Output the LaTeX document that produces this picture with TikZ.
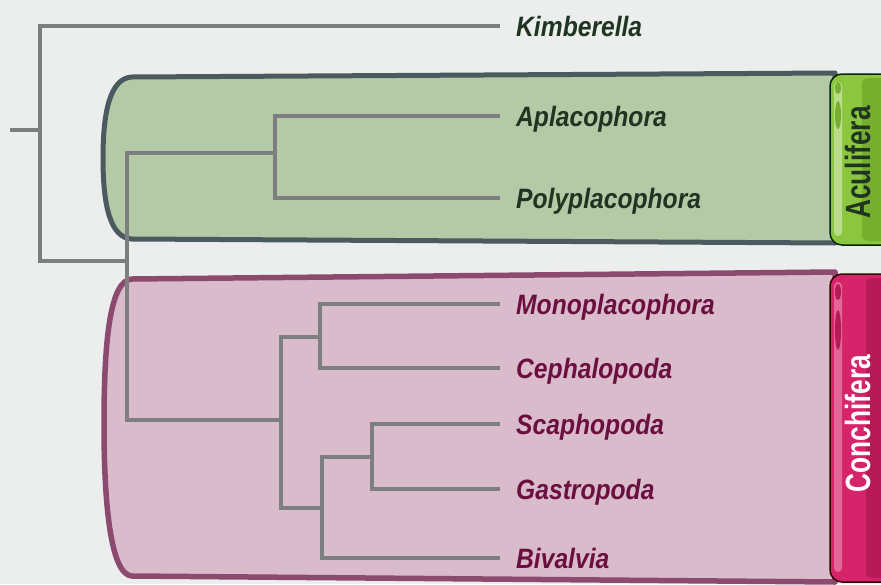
\documentclass[tikz,border=0pt]{standalone}
\usepackage{fontspec}
\newfontfamily\lblfont[FakeStretch=0.88]{Liberation Sans}
\newfontfamily\tabfont[FakeStretch=0.75]{Liberation Sans}
\definecolor{bg}{HTML}{ECEEEE}
\definecolor{treec}{HTML}{7C7E80}
\definecolor{gfill}{HTML}{B4CAA6}
\definecolor{gline}{HTML}{4B5A5E}
\definecolor{pfill}{HTML}{D9BBCB}
\definecolor{pline}{HTML}{8C4B6E}
\definecolor{gtxt}{HTML}{1F3521}
\definecolor{ptxt}{HTML}{6B0F3F}
\definecolor{gtab}{HTML}{8CC63F}
\definecolor{gtabd}{HTML}{76AE2E}
\definecolor{ptab}{HTML}{D6246A}
\definecolor{ptabd}{HTML}{B81A57}
\tikzset{
  tree/.style={draw=treec, line width=4.2pt, line join=miter},
  taxon/.style={anchor=west, inner xsep=16pt, inner ysep=0pt, text height=20pt, text depth=0pt,
    font=\lblfont\bfseries\itshape\fontsize{28}{30}\selectfont},
  gtaxon/.style={taxon, text=gtxt},
  ptaxon/.style={taxon, text=ptxt},
  tablabel/.style={rotate=90, inner sep=0pt, font=\tabfont\bfseries\fontsize{35}{38}\selectfont}
}
\begin{document}
\begin{tikzpicture}[x=1pt,y=-1pt]
\useasboundingbox (0,0) rectangle (881,584);
\clip (0,0) rectangle (881,584);
\fill[bg] (0,0) rectangle (881,584);
% clade boxes
\draw[gline, fill=gfill, line width=5pt, line join=round]
  (132,77) -- (835,73) -- (835,243) -- (132,239)
  .. controls (110,238) and (103,205) .. (103,158)
  .. controls (103,112) and (110,78) .. (132,77) -- cycle;
\draw[pline, fill=pfill, line width=5.5pt, line join=round]
  (132,279) -- (835,272) -- (835,582) -- (132,576)
  .. controls (110,575) and (104,500) .. (104,425)
  .. controls (104,340) and (110,280) .. (132,279) -- cycle;
% tabs
\draw[black!85!green, line width=1.5pt, fill=gtab, rounded corners=12pt]
  (830,74) rectangle (900,245);
\fill[gtabd, rounded corners=6pt] (862,78) rectangle (900,241);
\fill[gtab!60!white, rounded corners=4pt] (834,82) rectangle (842,236);
\fill[gtabd] (838,88) ellipse (3pt and 6pt);
\fill[gtabd] (838,115) ellipse (3pt and 14pt);
\node[tablabel, text=gtxt] (acul) at (857.5,162.5) {Aculifera};
\draw[black!80!red, line width=1.5pt, fill=ptab, rounded corners=12pt]
  (830,274) rectangle (900,582);
\fill[ptabd, rounded corners=6pt] (866,278) rectangle (900,578);
\fill[ptab!70!white, rounded corners=4pt] (834,282) rectangle (842,572);
\fill[ptabd] (838,292) ellipse (3pt and 8pt);
\fill[ptabd] (838,330) ellipse (3pt and 20pt);
\node[tablabel, text=white] (conch) at (857.5,423.5) {Conchifera};
% internal nodes
\coordinate (root) at (10,130);
\coordinate (N0) at (40,130);
\coordinate (M) at (127,261);
\coordinate (A) at (275,153);
\coordinate (C) at (281,420);
\coordinate (C1) at (320,337);
\coordinate (C2) at (322,508);
\coordinate (C3) at (372,457);
% taxa
\node[gtaxon] (kim) at (500,26) {Kimberella};
\node[gtaxon] (apl) at (500,116) {Aplacophora};
\node[gtaxon] (poly) at (500,198) {Polyplacophora};
\node[ptaxon] (mono) at (500,304) {Monoplacophora};
\node[ptaxon] (ceph) at (500,368) {Cephalopoda};
\node[ptaxon] (scaph) at (500,424) {Scaphopoda};
\node[ptaxon] (gast) at (500,489) {Gastropoda};
\node[ptaxon] (biv) at (500,558) {Bivalvia};
% tree
\draw[tree] (root) -- (N0);
\draw[tree] (kim.west) -| (N0) |- (M);
\draw[tree] (A) -| (M) |- (C);
\draw[tree] (apl.west) -| (A) |- (poly.west);
\draw[tree] (C1) -| (C) |- (C2);
\draw[tree] (mono.west) -| (C1) |- (ceph.west);
\draw[tree] (C3) -| (C2) |- (biv.west);
\draw[tree] (scaph.west) -| (C3) |- (gast.west);
\end{tikzpicture}
\end{document}
